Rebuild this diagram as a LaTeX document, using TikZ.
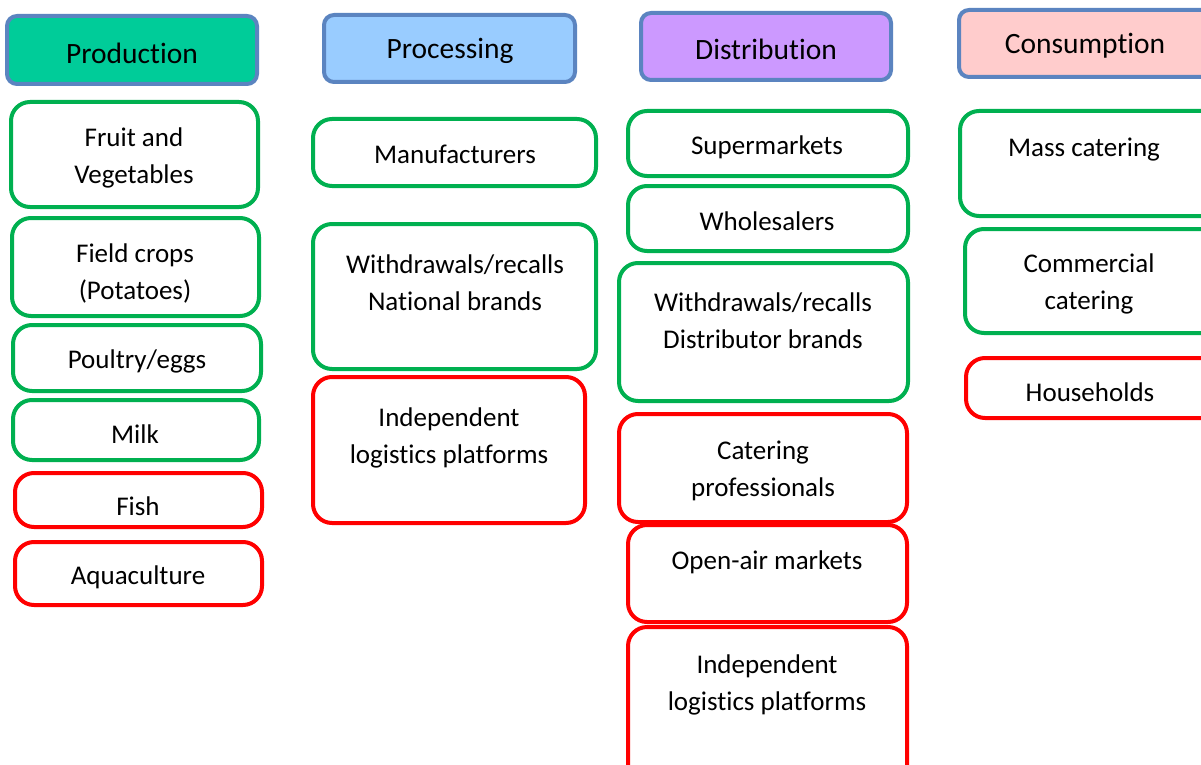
\documentclass[tikz,border=0pt]{standalone}
\usepackage{fontspec}
\setmainfont{Carlito}[Ligatures=NoCommon]
\usepackage{tikz}
\definecolor{stageblue}{HTML}{5B84C0}
\definecolor{okgreen}{HTML}{00B050}
\definecolor{riskred}{HTML}{FF0000}
\definecolor{prodfill}{HTML}{00CC99}
\definecolor{procfill}{HTML}{99CCFF}
\definecolor{distfill}{HTML}{CC99FF}
\definecolor{consfill}{HTML}{FFCCCC}

\begin{document}
\begin{tikzpicture}[
    x=1pt, y=-1pt,
    header/.style={draw=stageblue, line width=4pt, rounded corners=10pt},
    green box/.style={draw=okgreen, line width=4pt, rounded corners=19pt},
    red box/.style={draw=riskred, line width=4pt, rounded corners=19pt},
    every node/.style={color=black, align=center, font=\fontsize{27}{37}\selectfont},
    head text/.style={font=\fontsize{29.5}{37}\selectfont}
    ]

    \useasboundingbox (0,0) rectangle (1201,765);
    \clip (0,0) rectangle (1201,765);

    % stage headers
    \draw[header, fill=prodfill] (7,16) rectangle (257,84);
    \node[head text] (production) at (132,53) {Production};
    \draw[header, fill=procfill] (324,15) rectangle (575,82);
    \node[head text] (processing) at (450,51) {Processing};
    \draw[header, fill=distfill] (641,13) rectangle (891,80);
    \node[head text] (distribution) at (766,49) {Distribution};
    \draw[header, fill=consfill] (959,10) rectangle (1215,77);
    \node[head text] (consumption) at (1085,46) {Consumption};

    % production
    \draw[green box] (11,102) rectangle (258,207);
    \node (fruit) at (134,158) {Fruit and\\Vegetables};
    \draw[green box] (12,218) rectangle (259,316);
    \node (crops) at (135,273.5) {Field crops\\(Potatoes)};
    \draw[green box] (13,325) rectangle (261,391);
    \node (poultry) at (137,361) {Poultry/eggs};
    \draw[green box] (13,400) rectangle (259,460);
    \node (milk) at (135,434) {Milk};
    \draw[red box] (15,473) rectangle (262,527);
    \node (fish) at (138,506) {Fish};
    \draw[red box] (15,542) rectangle (262,605);
    \node (aqua) at (138,577) {Aquaculture};

    % processing
    \draw[green box] (313,119) rectangle (596,186);
    \node (manuf) at (455,154) {Manufacturers};
    \draw[green box] (313,224) rectangle (596,369);
    \node (natbrands) at (455,283) {Withdrawals/recalls\\National brands};
    \draw[red box] (313,377) rectangle (585,523);
    \node (proclog) at (449,438) {Independent\\logistics platforms};

    % distribution
    \draw[green box] (628,111) rectangle (908,176);
    \node (supermkt) at (767,147) {Supermarkets};
    \draw[green box] (628,186) rectangle (908,251);
    \node (wholesale) at (767,221) {Wholesalers};
    \draw[green box] (619,263) rectangle (908,401);
    \node (distbrands) at (763,321) {Withdrawals/recalls\\Distributor brands};
    \draw[red box] (619,414) rectangle (907,522);
    \node (cateringpro) at (763,470.5) {Catering\\professionals};
    \draw[red box] (628,525) rectangle (907,622);
    \node (openair) at (767,562) {Open-air markets};
    \draw[red box] (628,627) rectangle (907,790);
    \node (distlog) at (767,684.5) {Independent\\logistics platforms};

    % consumption
    \draw[green box] (960,111) rectangle (1225,216);
    \node (mass) at (1084,150) {Mass catering};
    \draw[green box] (965,229) rectangle (1225,333);
    \node (commercial) at (1089,284) {Commercial\\catering};
    \draw[red box] (966,358) rectangle (1225,418);
    \node (households) at (1090,392) {Households};
\end{tikzpicture}
\end{document}
